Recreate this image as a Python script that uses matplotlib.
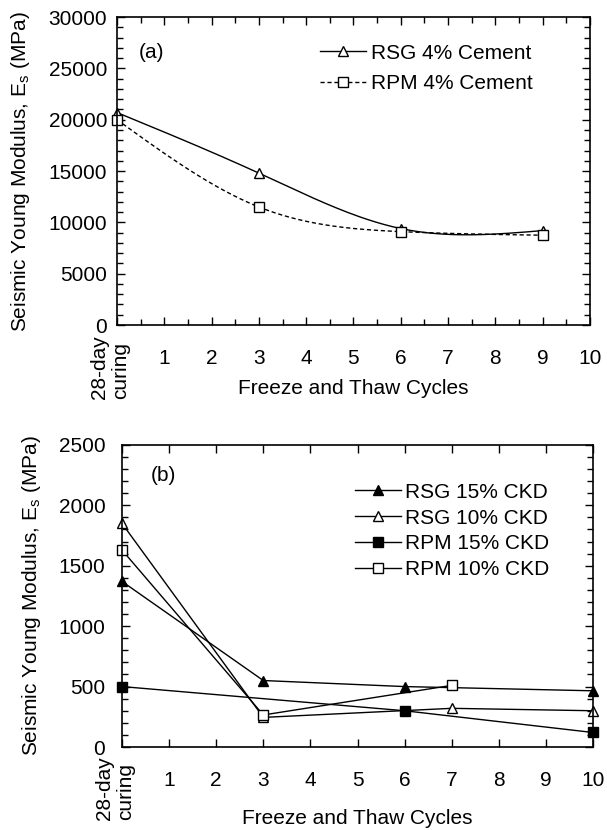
import numpy as np
import matplotlib
matplotlib.use("Agg")
import matplotlib.pyplot as plt
from matplotlib.ticker import MultipleLocator

plt.rcParams['font.family'] = ['Liberation Sans', 'DejaVu Sans']
plt.rcParams['mathtext.fontset'] = 'custom'
plt.rcParams['mathtext.rm'] = 'Liberation Sans'
plt.rcParams['font.size'] = 15

# ---------------- data ----------------
xticks = [0, 1, 2, 3, 4, 5, 6, 7, 8, 9, 10]
xticklabels = ['', '1', '2', '3', '4', '5', '6', '7', '8', '9', '10']
first_label = '28-day\ncuring'

# Panel (a)
a_x = [0, 3, 6, 9]
a_rsg_cement = [20700, 14800, 9400, 9200]
a_rpm_cement = [20000, 11500, 9100, 8750]

# Panel (b)
b_rsg15_x = [0, 3, 6, 10]
b_rsg15_y = [1370, 550, 500, 465]
b_rsg10_x = [0, 3, 7, 10]
b_rsg10_y = [1850, 245, 320, 300]
b_rpm15_x = [0, 6, 10]
b_rpm15_y = [500, 300, 120]
b_rpm10_x = [0, 3, 7]
b_rpm10_y = [1630, 265, 510]


def natural_spline(x, y, n=200):
    x = np.asarray(x, float)
    y = np.asarray(y, float)
    m = len(x)
    h = np.diff(x)
    A = np.zeros((m, m))
    r = np.zeros(m)
    A[0, 0] = 1
    A[-1, -1] = 1
    for i in range(1, m - 1):
        A[i, i - 1] = h[i - 1]
        A[i, i] = 2 * (h[i - 1] + h[i])
        A[i, i + 1] = h[i]
        r[i] = 6 * ((y[i + 1] - y[i]) / h[i] - (y[i] - y[i - 1]) / h[i - 1])
    M = np.linalg.solve(A, r)
    xs = np.linspace(x[0], x[-1], n)
    ys = np.empty_like(xs)
    for k, t in enumerate(xs):
        i = min(np.searchsorted(x, t, side='right') - 1, m - 2)
        a = x[i + 1] - t
        b = t - x[i]
        ys[k] = (M[i] * a ** 3 / (6 * h[i]) + M[i + 1] * b ** 3 / (6 * h[i])
                 + (y[i] / h[i] - M[i] * h[i] / 6) * a
                 + (y[i + 1] / h[i] - M[i + 1] * h[i] / 6) * b)
    return xs, ys


fig = plt.figure(figsize=(6.07, 8.30), dpi=100)
ax1 = fig.add_axes([0.1928, 0.6084, 0.779, 0.371])
ax2 = fig.add_axes([0.201, 0.100, 0.776, 0.364])

ylabel = 'Seismic Young Modulus, E$_\\mathregular{s}$ (MPa)'


def style_axes(ax, ymax, ymajor, yminor, xminor, ypad, xpad):
    ax.set_xlim(0, 10)
    ax.set_ylim(0, ymax)
    ax.set_xticks(xticks)
    ax.set_xticklabels(xticklabels)
    ax.yaxis.set_major_locator(MultipleLocator(ymajor))
    ax.yaxis.set_minor_locator(MultipleLocator(yminor))
    if xminor:
        ax.xaxis.set_minor_locator(MultipleLocator(xminor))
    ax.tick_params(which='both', direction='in', top=True, right=True, width=1.0)
    ax.tick_params(which='major', length=6)
    ax.tick_params(which='minor', length=4)
    ax.tick_params(axis='y', which='major', pad=ypad)
    ax.tick_params(axis='x', which='major', pad=xpad)
    for s in ax.spines.values():
        s.set_linewidth(1.2)
    ax.annotate(first_label, xy=(0, 0), xycoords=('data', 'axes fraction'),
                xytext=(-5, -7), textcoords='offset points',
                rotation=90, ha='center', va='top', multialignment='left',
                fontsize=15, annotation_clip=False)
    ax.set_ylabel(ylabel)
    ax.set_xlabel('Freeze and Thaw Cycles')


style_axes(ax1, 30000, 5000, 1000, 0.5, 7, 17)
style_axes(ax2, 2500, 500, 100, None, 12, 17.5)

# Panel (a)
xs, ys = natural_spline(a_x, a_rsg_cement)
ax1.plot(xs, ys, color='black', lw=1.0, clip_on=False)
ax1.plot(a_x, a_rsg_cement, linestyle='none', marker='^', ms=7.5, mfc='white',
         mec='black', mew=1.0, clip_on=False)
xs, ys = natural_spline(a_x, a_rpm_cement)
ax1.plot(xs, ys, color='black', lw=1.0, linestyle=(0, (3, 2)), clip_on=False)
ax1.plot(a_x, a_rpm_cement, linestyle='none', marker='s', ms=6.5, mfc='white',
         mec='black', mew=1.0, clip_on=False)
# legend proxies
ax1.plot([], [], color='black', lw=1.0, marker='^', ms=7.5, mfc='white',
         mec='black', label='RSG 4% Cement')
ax1.plot([], [], color='black', lw=1.0, linestyle=(0, (3, 2)), marker='s', ms=6.5,
         mfc='white', mec='black', label='RPM 4% Cement')
ax1.legend(loc='upper left', bbox_to_anchor=(0.429, 0.914), frameon=False,
           handlelength=2.2, handletextpad=0.25, labelspacing=0.55,
           borderpad=0, borderaxespad=0, fontsize=15)
ax1.text(0.072, 0.886, '(a)', transform=ax1.transAxes, ha='center', va='center',
         fontsize=15)
ax1.yaxis.set_label_coords(-0.18, 0.5)
ax1.xaxis.set_label_coords(0.5, -0.176)

# Panel (b)
ax2.plot(b_rsg15_x, b_rsg15_y, color='black', lw=1.0, marker='^', ms=7.5,
         mfc='black', mec='black', clip_on=False, label='RSG 15% CKD')
ax2.plot(b_rsg10_x, b_rsg10_y, color='black', lw=1.0, marker='^', ms=7.5,
         mfc='white', mec='black', clip_on=False, label='RSG 10% CKD')
ax2.plot(b_rpm15_x, b_rpm15_y, color='black', lw=1.0, marker='s', ms=6.5,
         mfc='black', mec='black', clip_on=False, label='RPM 15% CKD')
ax2.plot(b_rpm10_x, b_rpm10_y, color='black', lw=1.0, marker='s', ms=6.5,
         mfc='white', mec='black', clip_on=False, label='RPM 10% CKD')
ax2.legend(loc='upper left', bbox_to_anchor=(0.495, 0.875), frameon=False,
           handlelength=2.2, handletextpad=0.2, labelspacing=0.33,
           borderpad=0, borderaxespad=0, fontsize=15)
ax2.text(0.087, 0.90, '(b)', transform=ax2.transAxes, ha='center', va='center',
         fontsize=15)
ax2.yaxis.set_label_coords(-0.168, 0.5)
ax2.xaxis.set_label_coords(0.5, -0.205)

fig.savefig('out.png', dpi=100)
